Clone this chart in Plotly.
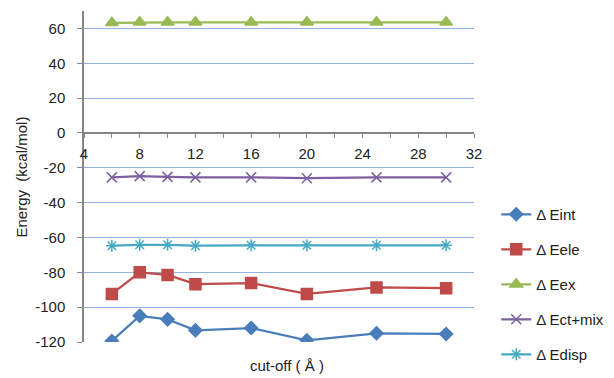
import plotly.graph_objects as go

cutoff = [6, 8, 10, 12, 16, 20, 25, 30]
e_int = [-119.4, -105.0, -107.0, -113.3, -112.0, -119.0, -115.0, -115.4]
e_ele = [-92.4, -80.0, -81.5, -86.8, -86.2, -92.4, -88.7, -89.1]
e_ex = [63.2, 63.5, 63.5, 63.5, 63.5, 63.5, 63.5, 63.5]
e_ctmix = [-25.5, -24.8, -25.2, -25.5, -25.5, -26.0, -25.5, -25.5]
e_disp = [-64.7, -64.2, -64.2, -64.7, -64.5, -64.5, -64.5, -64.5]

y_tickvals = [-120, -100, -80, -60, -40, -20, 0, 20, 40, 60]
y_ticktext = ["-120", "-100", "-80", "-60", "-40", "-20", "0", "20", "40", "60"]

names = ["Δ Eint", "Δ Eele", "Δ Eex", "Δ Ect+mix", "Δ Edisp"]
colors = ["#4A7EBB", "#BE4B48", "#98B954", "#7D60A0", "#46AAC5"]
symbols = ["diamond", "square", "triangle-up", "x-thin-open", "asterisk-open"]
sizes = [10, 11, 11, 10, 10]
series = [e_int, e_ele, e_ex, e_ctmix, e_disp]

font_family = "Liberation Sans, Arial, sans-serif"

fig = go.Figure()
for i, (nm, col, sym, sz, ys) in enumerate(zip(names, colors, symbols, sizes, series)):
    fig.add_trace(go.Scatter(
        x=cutoff, y=ys, name=nm, mode="lines+markers",
        legendgroup=f"g{i}",
        line=dict(color=col, width=2.25),
        marker=dict(symbol=sym, size=sz, color=col, line=dict(color=col, width=1.5)),
    ))

fig.update_layout(
    width=614, height=378,
    margin=dict(l=84, r=140, t=11, b=36, autoexpand=False),
    plot_bgcolor="white", paper_bgcolor="white",
    font=dict(family=font_family, size=15, color="#222222"),
    showlegend=True,
    legend=dict(x=1.057, xanchor="left", y=0.435, yanchor="top",
                tracegroupgap=12.5, font=dict(size=15),
                bgcolor="rgba(0,0,0,0)"),
    xaxis=dict(range=[4, 32], dtick=4, tick0=4, anchor="free", position=120/190,
               showline=True, linecolor="#868686", linewidth=1.5,
               ticks="outside", ticklen=4, tickcolor="#868686",
               minor=dict(dtick=2, ticks="outside", ticklen=4, tickcolor="#868686", showgrid=False),
               showgrid=False, zeroline=False, tickfont=dict(size=15),
               ticklabelstandoff=3, automargin=False),
    yaxis=dict(range=[-120, 70], tickvals=y_tickvals, ticktext=y_ticktext,
               showline=True, linecolor="#868686", linewidth=1.5,
               ticks="outside", ticklen=5, tickcolor="#868686",
               showgrid=True, gridcolor="#8EB4E3", gridwidth=1,
               zeroline=False, tickfont=dict(size=15), ticklabelstandoff=9,
               automargin=False),
    annotations=[
        dict(text="cut-off ( Å )", xref="paper", yref="paper", x=0.52, y=-0.072,
             xanchor="center", yanchor="middle", showarrow=False, font=dict(size=15)),
        dict(text="Energy  (kcal/mol)", xref="paper", yref="paper", x=-0.159, y=0.5,
             xanchor="center", yanchor="middle", textangle=-90, showarrow=False,
             font=dict(size=15)),
    ],
)

fig.write_html("out.html", config={"displayModeBar": False},
               post_script="document.body.style.margin='0';")
